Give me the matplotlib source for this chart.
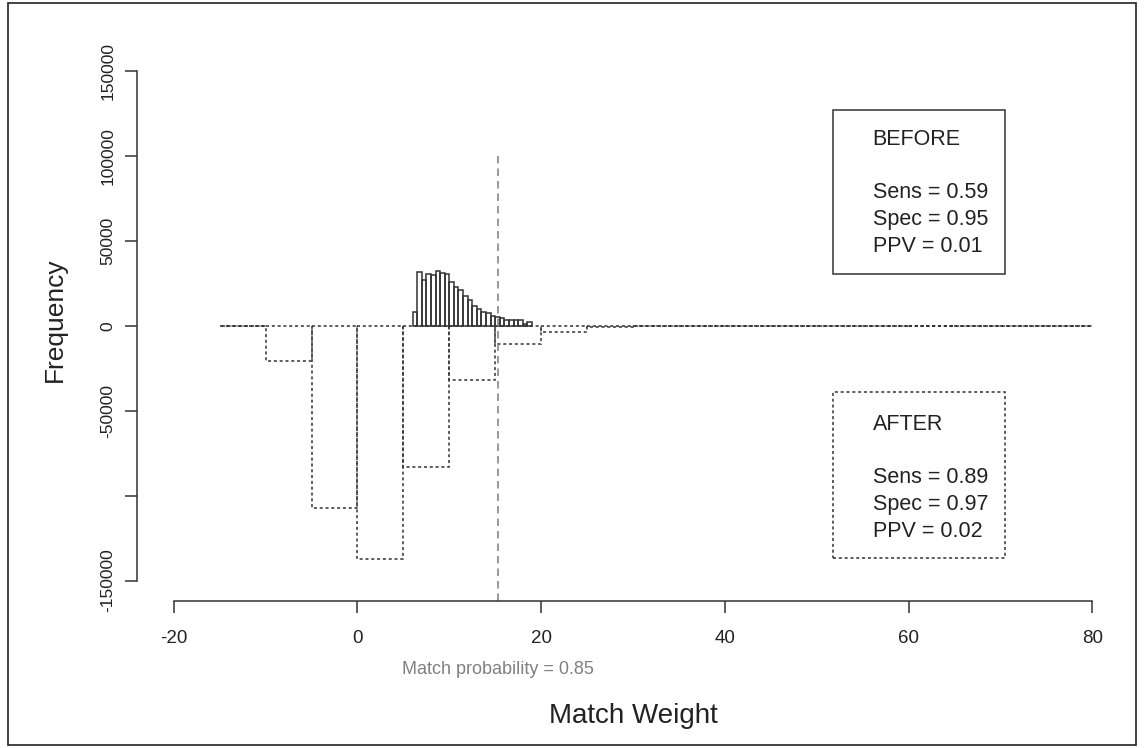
import numpy as np
import matplotlib
matplotlib.use("Agg")
import matplotlib.pyplot as plt
from matplotlib.patches import Rectangle

plt.rcParams['font.family'] = ['Liberation Sans', 'DejaVu Sans']

# BEFORE: fine bins (width 0.5) starting at weight 6
before_start = 6.0
before_width = 0.5
before_counts = [8200, 31400, 26700, 30600, 29800, 32100, 31000, 30600, 25900,
                 23100, 20800, 17600, 15300, 11800, 9800, 8200, 7400, 5500,
                 4900, 4300, 3300, 3300, 3200, 3100, 1000, 2000]

# AFTER: coarse bins (width 5) from -15 to 80, drawn downwards
after_start = -15
after_width = 5
after_counts = [0, 20500, 107000, 137500, 83000, 32000, 11000, 3500, 700, 400,
                0, 0, 0, 0, 0, 0, 0, 0, 0]

threshold_weight = 15.35
threshold_label = "Match probability = 0.85"

before_text = ["BEFORE", "", "Sens = 0.59", "Spec = 0.95", "PPV = 0.01"]
after_text = ["AFTER", "", "Sens = 0.89", "Spec = 0.97", "PPV = 0.02"]

xticks = [-20, 0, 20, 40, 60, 80]
yticks = [-150000, -100000, -50000, 0, 50000, 100000, 150000]
ytick_labels = ['-150000', '', '-50000', '0', '50000', '100000', '150000']

W, H = 1144, 748
fig = plt.figure(figsize=(W / 100, H / 100), dpi=100)
ax = fig.add_axes([137 / W, 147 / H, 992 / W, 550.5 / H])

line_col = '#333333'
dots = (0, (2.0, 1.8))

bx = before_start + before_width * np.arange(len(before_counts))
ax.bar(bx, before_counts, width=before_width, align='edge', fill=False,
       edgecolor=line_col, linewidth=1.1)

axx = after_start + after_width * np.arange(len(after_counts))
ax.bar(axx, -np.array(after_counts), width=after_width, align='edge', fill=False,
       edgecolor=line_col, linewidth=1.1, linestyle=dots)

ax.set_xlim(-24, 84)
ax.set_ylim(-162000, 162000)

ax.vlines(threshold_weight, -162000, 100000, colors='#888888', linewidth=1.2,
          linestyles=(0, (4.5, 3.0)))

# legend boxes
ax.add_patch(Rectangle((51.8, 30460), 18.7, 96520, fill=False,
                       edgecolor=line_col, linewidth=1.1))
ax.add_patch(Rectangle((51.8, -136860), 18.7, 97700, fill=False,
                       edgecolor=line_col, linewidth=1.1, linestyle=dots))
for lines, y0 in [(before_text, 109900), (after_text, -58000)]:
    for i, s in enumerate(lines):
        ax.annotate(s, xy=(56.1, y0), xytext=(0, -i * 19.3),
                    textcoords='offset points', ha='left', va='center',
                    fontsize=15.5, color='#222222')

for s in ['top', 'right']:
    ax.spines[s].set_visible(False)
ax.spines['bottom'].set_bounds(-20, 80)
ax.spines['left'].set_bounds(-150000, 150000)
for s in ['bottom', 'left']:
    ax.spines[s].set_color(line_col)
    ax.spines[s].set_linewidth(1.1)

ax.set_xticks(xticks)
ax.set_xticklabels([str(t) for t in xticks])
ax.set_yticks(yticks)
ax.set_yticklabels(ytick_labels, rotation=90, va='center')
ax.tick_params(axis='both', length=8.6, width=1.1, color=line_col,
               labelcolor='#222222')
ax.tick_params(axis='x', labelsize=13.5, pad=12)
ax.tick_params(axis='y', labelsize=12.5, pad=7)

fig.text(498 / W, 1 - 670 / H, threshold_label, ha='center', va='center',
         fontsize=13, color='#808080')
fig.text(633 / W, 1 - 723 / H, "Match Weight", ha='center', va='baseline',
         fontsize=20, color='#222222')
fig.text(55 / W, 1 - 320 / H, "Frequency", ha='center', va='center',
         rotation=90, fontsize=19, color='#222222')

# outer frame
fig.add_artist(Rectangle((8 / W, 3 / H), 1128 / W, 742 / H, fill=False,
                         edgecolor='#222222', linewidth=1.2,
                         transform=fig.transFigure))

fig.savefig('out.png', dpi=100)
